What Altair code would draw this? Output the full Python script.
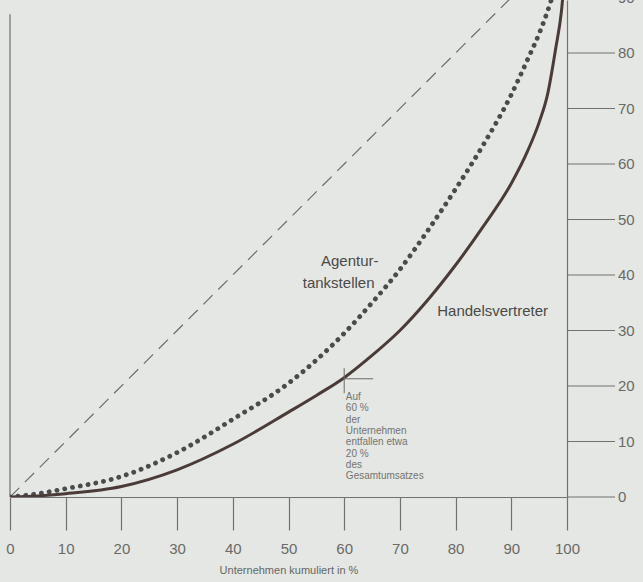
import altair as alt
import pandas as pd

# Lorenz curves: Unternehmen kumuliert (%) vs. Umsatz kumuliert (%)
hv_x = [0, 5, 10, 20, 30, 40, 50, 55, 60, 65, 70, 75, 80, 85, 90, 93, 95, 96.5, 98, 99, 100]
hv_y = [0, 0.2, 0.6, 1.9, 4.9, 9.5, 15.3, 18.3, 21.5, 25.5, 30, 35.5, 41.8, 48.8, 56.5, 62.5, 67.5, 72.5, 81, 87.5, 100]

at_x = [0, 5, 10, 20, 30, 40, 50, 60, 65, 70, 75, 80, 85, 90, 93, 95, 97, 100]
at_y = [0, 0.6, 1.5, 3.7, 8, 14, 20.5, 29.5, 35, 41, 48, 55.5, 63.5, 72.5, 79, 83.5, 89, 100]

diag_x = [0, 100]
diag_y = [0, 100]

x_ticks = [0, 10, 20, 30, 40, 50, 60, 70, 80, 90, 100]
y_ticks = [0, 10, 20, 30, 40, 50, 60, 70, 80, 90]

note_lines = ["Auf", "60 %", "der", "Unternehmen", "entfallen etwa", "20 %", "des", "Gesamtumsatzes"]

FONT = "Liberation Sans, Arial, sans-serif"
INK = "#4a4a46"
AXIS = "#727270"

hv = pd.DataFrame({"x": hv_x, "y": hv_y})
at = pd.DataFrame({"x": at_x, "y": at_y})
diag = pd.DataFrame({"x": diag_x, "y": diag_y})

xs = alt.Scale(domain=[0, 100], nice=False, zero=False)
ys = alt.Scale(domain=[0, 89.55], nice=False, zero=False)

xax = alt.Axis(values=x_ticks, tickSize=33, labelPadding=11,
               title="Unternehmen kumuliert in %", titlePadding=8, labelFlush=False)
# right axis: domain line only; its long ticks and labels are drawn below
yax = alt.Axis(orient="right", values=y_ticks, ticks=False, labels=False, title=None)


def X(f="x"):
    return alt.X(f"{f}:Q", scale=xs, axis=xax)


def Y(f="y"):
    return alt.Y(f"{f}:Q", scale=ys, axis=yax)


diag_layer = alt.Chart(diag).mark_line(
    color="#6c6c6a", strokeWidth=1.2, strokeDash=[13, 8], clip=True
).encode(x=X(), y=Y())

hv_layer = alt.Chart(hv).mark_line(
    color="#4b3b38", strokeWidth=3, interpolate="monotone", clip=True
).encode(x=X(), y=Y())

at_layer = alt.Chart(at).mark_line(
    color="#4a4c4b", strokeWidth=4.8, strokeDash=[0.1, 7.8], strokeCap="round",
    interpolate="monotone", clip=True
).encode(x=X(), y=Y())

left_line = alt.Chart(pd.DataFrame({"x": [0], "y": [0], "y2": [87]})).mark_rule(
    color=AXIS, strokeWidth=1.2
).encode(x=X(), y=Y(), y2="y2:Q")

# right-hand scale: long ticks outward from x = 100, labels after them
yt = pd.DataFrame({"y": y_ticks, "t": [str(v) for v in y_ticks]})
y_tick_rules = alt.Chart(yt).mark_rule(color=AXIS, strokeWidth=1.2).encode(
    x=alt.value(557), x2=alt.value(605), y=Y()
)
y_tick_text = alt.Chart(yt).mark_text(
    font=FONT, fontSize=15, color="#6a6a66", align="left", baseline="middle"
).encode(x=alt.value(608), y=Y(), text="t:N")

# crosshair at 60 % / ~21 %
cross_v = alt.Chart(pd.DataFrame({"x": [60], "y": [18.7], "y2": [23.2]})).mark_rule(
    color="#6a6a66", strokeWidth=1
).encode(x=X(), y=Y(), y2="y2:Q")
cross_h = alt.Chart(pd.DataFrame({"x": [60], "x2": [65.2], "y": [21.3]})).mark_rule(
    color="#6a6a66", strokeWidth=1
).encode(x=X(), x2="x2:Q", y=Y())

labels = pd.DataFrame({
    "x": [61.0, 59.0, 76.7],
    "y": [42.5, 38.6, 33.6],
    "t": ["Agentur-", "tankstellen", "Handelsvertreter"],
})
lab_center = alt.Chart(labels.iloc[:2]).mark_text(
    font=FONT, fontSize=15, color=INK, align="center", baseline="middle"
).encode(x=X(), y=Y(), text="t:N")
lab_left = alt.Chart(labels.iloc[2:]).mark_text(
    font=FONT, fontSize=15, color=INK, align="left", baseline="middle"
).encode(x=X(), y=Y(), text="t:N")

note = pd.DataFrame({
    "x": [60.3] * len(note_lines),
    "y": [18.0 - i * 2.04 for i in range(len(note_lines))],
    "t": note_lines,
})
note_layer = alt.Chart(note).mark_text(
    font=FONT, fontSize=10, color="#74746f", align="left", baseline="middle"
).encode(x=X(), y=Y(), text="t:N")

chart = alt.layer(
    diag_layer, left_line, y_tick_rules, y_tick_text, at_layer, hv_layer,
    cross_v, cross_h, lab_center, lab_left, note_layer
).properties(
    width=557, height=497,
    autosize=alt.AutoSizeParams(type="none"),
    padding={"left": 10, "top": 0, "right": 76, "bottom": 85},
    background="#e4e7e3",
).configure_view(
    stroke=None
).configure_axis(
    tickColor=AXIS, tickWidth=1.2, domainColor=AXIS, domainWidth=1.2,
    labelFontSize=15, labelColor="#6a6a66", labelFont=FONT, grid=False,
    titleFontSize=11, titleFont=FONT, titleColor="#666663", titleFontWeight="normal",
)

chart.save("out.html", embed_options={"renderer": "svg", "actions": False})
